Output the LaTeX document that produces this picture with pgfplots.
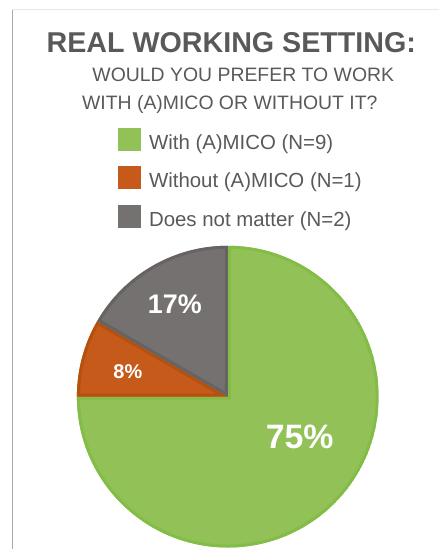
\documentclass[border=0pt]{standalone}
\usepackage{pgfplots}
\pgfplotsset{compat=1.18}
\usepackage{fontspec}
\setmainfont{Liberation Sans}
\definecolor{txt}{HTML}{595959}
\definecolor{gfill}{HTML}{92C257}
\definecolor{gdark}{HTML}{84BC48}
\definecolor{ofill}{HTML}{C55A1A}
\definecolor{odark}{HTML}{B5500F}
\definecolor{yfill}{HTML}{767171}
\definecolor{ydark}{HTML}{676363}
\begin{document}
\begin{tikzpicture}
\begin{axis}[
  width=439bp, height=549bp, scale only axis,
  xmin=0, xmax=439, ymin=0, ymax=549, y dir=reverse,
  hide axis, clip=false]
% data: counts per answer
\def\nA{9}\def\nB{1}\def\nC{2}
\pgfmathsetmacro{\tot}{\nA+\nB+\nC}
\pgfmathsetmacro{\aA}{90-360*\nA/\tot}
\pgfmathsetmacro{\aB}{\aA-360*\nB/\tot}
\pgfmathsetmacro{\aC}{\aB-360*\nC/\tot}
\path (axis cs:0,0) rectangle (axis cs:439,549);
\draw[draw=black!33, line width=1bp] (axis cs:12.5,10) -- (axis cs:12.5,549);
\draw[draw=black!9, line width=1bp] (axis cs:12.5,10) -- (axis cs:439,10);
% title
\node[text=txt, font=\bfseries\fontsize{28.8}{30}\selectfont, anchor=base] at (axis cs:231.5,53) {REAL WORKING SETTING:};
\node[text=txt, font=\fontsize{19.5}{20}\selectfont, anchor=base] at (axis cs:243.5,82) {WOULD YOU PREFER TO WORK};
\node[text=txt, font=\fontsize{19.5}{20}\selectfont, anchor=base] at (axis cs:230,110) {WITH (A)MICO OR WITHOUT IT?};
% legend
\fill[gfill] (axis cs:118,128) rectangle (axis cs:141,151);
\fill[ofill] (axis cs:118,166) rectangle (axis cs:141,189);
\fill[yfill] (axis cs:118,205) rectangle (axis cs:141,228);
\node[text=txt, font=\fontsize{20.5}{23}\selectfont, anchor=base west, inner sep=0pt] at (axis cs:149,149.5) {With (A)MICO (N=9)};
\node[text=txt, font=\fontsize{20.5}{23}\selectfont, anchor=base west, inner sep=0pt] at (axis cs:149,188) {Without (A)MICO (N=1)};
\node[text=txt, font=\fontsize{20.5}{23}\selectfont, anchor=base west, inner sep=0pt] at (axis cs:149,226.5) {Does not matter (N=2)};
% pie
\coordinate (c) at (axis cs:228,397);
\begin{scope}
\clip (c) -- ++(90:151bp) arc[start angle=90, end angle=\aA, radius=151bp] -- cycle;
\fill[gfill, draw=gdark, line width=6bp] (c) -- ++(90:151bp) arc[start angle=90, end angle=\aA, radius=151bp] -- cycle;
\end{scope}
\begin{scope}
\clip (c) -- ++(\aA:151bp) arc[start angle=\aA, end angle=\aB, radius=151bp] -- cycle;
\fill[ofill, draw=odark, line width=6bp] (c) -- ++(\aA:151bp) arc[start angle=\aA, end angle=\aB, radius=151bp] -- cycle;
\end{scope}
\begin{scope}
\clip (c) -- ++(\aB:151bp) arc[start angle=\aB, end angle=\aC, radius=151bp] -- cycle;
\fill[yfill, draw=ydark, line width=6bp] (c) -- ++(\aB:151bp) arc[start angle=\aB, end angle=\aC, radius=151bp] -- cycle;
\end{scope}
\node[text=white, font=\bfseries\fontsize{34}{36}\selectfont] at (axis cs:300,437) {75\%};
\node[text=white, font=\bfseries\fontsize{27}{29}\selectfont] at (axis cs:175,305) {17\%};
\node[text=white, font=\bfseries\fontsize{20}{22}\selectfont] at (axis cs:128,372) {8\%};
\end{axis}
\end{tikzpicture}
\end{document}
